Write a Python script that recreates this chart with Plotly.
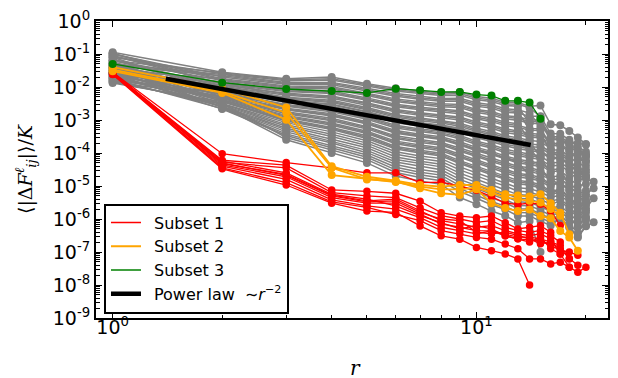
import plotly.graph_objects as go

# log10 of <|dF|>/K at r = 1, 2, 3, ...
gray_log10 = [
    [-0.95,-1.55,-1.75,-1.70,-1.90,-2.04,-2.12,-2.18,-2.15,-2.29,-2.34,-2.46,-2.47,-2.58,-2.56,-3.13,-3.16,-3.33,-3.53,-3.73],
    [-1.20,-1.58,-1.78,-1.75,-1.94,-2.08,-2.16,-2.22,-2.20,-2.34,-2.39,-2.51,-2.52,-2.63,-2.90],
    [-1.10,-1.60,-1.81,-1.79,-1.97,-2.12,-2.20,-2.26,-2.25,-2.39,-2.44,-2.56,-2.58,-3.10],
    [-1.30,-1.62,-1.86,-1.86,-2.04,-2.20,-2.28,-2.35,-2.34,-2.48,-2.54,-2.66,-2.69,-2.79,-3.20],
    [-1.35,-1.66,-1.89,-1.89,-2.08,-2.24,-2.33,-2.39,-2.39,-2.53,-2.59,-2.71,-2.74,-3.30],
    [-1.00,-1.70,-1.92,-1.93,-2.12,-2.28,-2.37,-2.43,-2.43,-2.58,-2.64,-2.77,-2.79,-2.89,-2.89,-3.41,-3.42,-3.60,-3.81,-3.96],
    [-1.50,-1.75,-1.97,-1.99,-2.19,-2.36,-2.45,-2.51,-2.53,-2.68,-2.74,-2.87,-2.90,-3.00,-3.00,-3.50,-3.51,-3.69,-3.90,-4.04],
    [-1.05,-1.78,-2.00,-2.03,-2.22,-2.40,-2.49,-2.55,-2.58,-2.72,-2.79,-2.92,-2.95,-3.05,-3.05,-3.54,-3.56,-3.74,-3.95,-4.08],
    [-1.20,-1.80,-2.03,-2.06,-2.26,-2.44,-2.53,-2.60,-2.62,-2.77,-2.84,-2.97,-3.01,-3.10,-3.11,-3.59,-3.60,-3.78,-4.00,-4.12],
    [-1.40,-1.85,-2.08,-2.13,-2.33,-2.52,-2.61,-2.68,-2.72,-2.87,-2.95,-3.07,-3.11,-3.60],
    [-1.55,-1.88,-2.11,-2.17,-2.37,-2.56,-2.65,-2.72,-2.76,-2.92,-3.00,-3.12,-3.17,-3.26,-3.27,-3.73,-3.73,-3.92,-4.14,-4.23],
    [-1.05,-1.90,-2.14,-2.20,-2.40,-2.60,-2.69,-2.76,-2.81,-2.96,-3.05,-3.17,-3.22,-3.31,-3.32,-3.77,-3.78,-3.96,-4.19,-4.27],
    [-0.98,-1.92,-2.22,-2.30,-2.51,-2.72,-2.82,-2.89,-2.95,-3.11,-3.20,-3.32,-3.38,-3.47,-3.49,-3.91,-3.91,-4.10,-4.33,-4.39],
    [-1.60,-1.95,-2.19,-2.27,-2.48,-2.68,-2.78,-2.85,-2.91,-3.06,-3.15,-3.27,-3.33,-3.41,-3.43,-3.90],
    [-1.25,-1.98,-2.25,-2.34,-2.55,-2.76,-2.86,-2.93,-3.00,-3.16,-3.25,-3.38,-3.44,-3.52,-3.54,-3.70,-3.72,-3.65,-3.70,-3.75],
    [-1.45,-2.00,-2.31,-2.40,-2.62,-2.84,-2.94,-3.01,-3.10,-3.25,-3.35,-3.48,-3.54,-3.62,-3.65,-3.87,-4.20],
    [-1.62,-2.02,-2.33,-2.44,-2.66,-2.88,-2.98,-3.05,-3.14,-3.30,-3.40,-3.53,-3.60,-3.67,-4.10],
    [-1.70,-2.05,-2.36,-2.47,-2.69,-2.92,-3.02,-3.09,-3.19,-3.35,-3.45,-3.58,-3.65,-3.73,-3.76,-3.99,-3.98,-4.18,-4.56,-4.58],
    [-1.15,-2.08,-2.42,-2.54,-2.76,-3.00,-3.10,-3.18,-3.28,-3.45,-3.55,-3.68,-3.76,-3.83,-4.30],
    [-1.55,-2.10,-2.47,-2.61,-2.84,-3.08,-3.19,-3.26,-3.38,-3.54,-3.65,-3.78,-3.87,-3.93,-3.98,-4.17,-4.16,-4.36,-4.59,-4.73],
    [-1.30,-2.12,-2.44,-2.58,-2.80,-3.04,-3.14,-3.22,-3.33,-3.49,-3.60,-3.73,-3.81,-3.88,-3.93,-4.14,-4.13,-4.33,-4.56,-4.69],
    [-1.35,-2.15,-2.53,-2.68,-2.91,-3.16,-3.27,-3.34,-3.47,-3.64,-3.75,-3.88,-3.97,-4.04,-4.09,-4.30,-4.28,-4.48,-4.72,-4.71],
    [-1.10,-2.18,-2.56,-2.71,-2.94,-3.20,-3.31,-3.39,-3.52,-3.69,-3.80,-3.94,-4.03,-4.09,-4.14,-4.60],
    [-1.80,-2.20,-2.58,-2.75,-2.98,-3.24,-3.35,-3.43,-3.57,-3.74,-3.85,-3.99,-4.08,-4.14,-4.20,-4.39,-4.37,-4.57,-4.81,-4.78,-4.87],
    [-1.65,-2.22,-2.64,-2.81,-3.05,-3.32,-3.43,-3.51,-3.66,-3.83,-3.95,-4.09,-4.19,-4.25,-4.31,-4.51,-4.48,-5.00],
    [-1.40,-2.25,-2.69,-2.88,-3.12,-3.40,-3.51,-3.59,-3.76,-3.93,-4.05,-4.19,-4.30,-4.35,-4.42,-4.90],
    [-1.72,-2.28,-2.67,-2.85,-3.09,-3.36,-3.47,-3.55,-3.71,-3.88,-4.00,-4.14,-4.24,-4.30,-4.36,-4.57,-4.54,-4.75,-5.00,-4.94],
    [-1.85,-2.30,-2.75,-2.95,-3.20,-3.48,-3.59,-3.68,-3.85,-4.02,-4.15,-4.29,-4.40,-4.45,-4.53,-4.73,-4.69,-4.90,-5.15],
    [-1.25,-2.30,-2.78,-2.99,-3.23,-3.52,-3.64,-3.72,-3.90,-4.07,-4.21,-4.34,-4.46,-4.51,-4.58,-4.76,-5.00],
    [-1.50,-2.32,-2.81,-3.02,-3.27,-3.56,-3.68,-3.76,-3.95,-4.12,-4.26,-4.39,-4.51,-4.56,-4.64,-4.82,-4.78,-4.99,-5.25,-5.14],
    [-1.75,-2.35,-2.86,-3.09,-3.34,-3.64,-3.76,-3.84,-4.04,-4.22,-4.36,-4.49,-4.62,-4.66,-4.74,-4.94,-4.90,-5.11,-5.37,-5.25,-5.07],
    [-1.58,-2.38,-2.89,-3.12,-3.38,-3.68,-3.80,-3.88,-4.09,-4.26,-4.41,-4.55,-4.67,-4.71,-4.80,-4.97,-4.92,-5.14,-5.45,-5.31],
    [-1.30,-2.40,-2.92,-3.16,-3.41,-3.72,-3.84,-3.93,-4.13,-4.31,-4.46,-4.60,-4.73,-4.77,-4.85,-5.03,-5.30],
    [-1.60,-2.42,-2.97,-3.23,-3.48,-3.80,-3.92,-4.01,-4.23,-4.41,-4.56,-4.70,-4.83,-4.87,-4.96,-5.16,-5.10,-5.32,-5.59,-5.43],
    [-1.40,-2.44,-3.00,-3.26,-3.52,-3.84,-3.96,-4.05,-4.28,-4.46,-4.61,-4.75,-4.89,-4.92,-5.02,-5.19,-5.13,-5.35,-5.62,-5.46],
    [-1.88,-2.45,-3.03,-3.29,-3.56,-3.88,-4.00,-4.09,-4.32,-4.51,-4.66,-4.80,-4.94,-4.97,-5.07,-5.25,-5.19,-5.41,-5.68,-5.50],
    [-1.45,-2.50,-3.08,-3.36,-3.63,-3.96,-4.09,-4.17,-4.42,-4.60,-4.76,-4.90,-5.05,-5.08,-5.18,-5.34,-5.28,-5.50,-5.78,-5.58],
    [-1.70,-2.52,-3.14,-3.43,-3.70,-4.04,-4.17,-4.26,-4.51,-4.70,-4.86,-5.00,-5.16,-5.18,-5.29,-5.46,-5.39,-5.63,-5.90,-5.68,-5.37],
    [-1.55,-2.55,-3.19,-3.50,-3.77,-4.12,-4.25,-4.34,-4.61,-4.79,-4.96,-5.10,-5.26,-5.29,-5.40,-5.56,-5.45,-5.69,-5.96,-5.74],
    [-1.80,-2.58,-3.25,-3.57,-3.84,-4.20,-4.33,-4.42,-4.70,-4.89,-5.06,-5.21,-5.37,-5.39,-5.51,-5.68,-5.60,-5.84,-6.06,-5.81],
    [-1.65,-2.60,-3.30,-3.64,-3.92,-4.27,-4.41,-4.51,-4.80,-4.99,-5.16,-5.31,-5.48,-5.50,-5.62,-5.77,-5.69,-5.93,-6.21,-5.94],
    [-1.35,-2.62,-3.36,-3.70,-3.99,-4.35,-4.50,-4.59,-4.89,-5.08,-5.26,-5.41,-5.59,-5.60,-5.73,-5.89,-5.81,-5.96,-6.24,-5.97],
    [-1.75,-2.65,-3.42,-3.77,-4.06,-4.43,-4.58,-4.67,-4.99,-5.18,-5.36,-5.51,-5.69,-5.70,-5.84,-5.99,-5.89,-6.14,-6.43,-6.04],
    [-1.60,-2.67,-3.47,-3.84,-4.13,-4.51,-4.66,-4.76,-5.08,-5.28,-5.47,-5.61,-5.80,-5.81,-5.95,-6.11,-6.01,-6.26,-6.56,-6.22,-6.10],
    [-1.85,-2.50,-3.53,-3.91,-4.20,-4.59,-4.74,-4.84,-5.17,-5.37,-5.57,-5.71,-5.91,-5.91,-6.05,-6.20,-5.98,-6.23,-6.53,-6.20],
    [-1.50,-2.60,-3.60,-4.00,-4.30,-4.70,-4.85,-4.95,-5.35,-5.55,-5.76,-5.90,-6.11,-6.06,-7.00],
    [-1.20,-1.95,-2.68,-2.86,-3.10,-3.37,-3.49,-3.57,-3.73,-3.90,-4.02,-4.16,-4.26,-4.70],
    [-1.00,-1.75,-2.40,-2.52,-2.74,-2.97,-3.08,-3.15,-3.25,-3.41,-3.52,-3.65,-3.72,-3.80,-3.83,-4.05,-4.04,-4.24,-4.47,-4.50],
]

red_log10 = [
    [-1.55,-4.02,-4.29,-4.45,-4.60,-4.60,-4.90,-4.88,-5.00,-5.13,-5.32,-5.52,-5.56,-5.52,-5.55,-5.76,-6.20],
    [-1.57,-4.22,-4.37,-5.12,-5.16,-5.22,-5.46,-5.81,-5.91,-5.96,-5.91,-6.11,-6.30,-6.25,-6.20,-6.40],
    [-1.58,-4.28,-4.45,-5.20,-5.30,-5.35,-5.66,-5.90,-6.00,-6.10,-6.05,-6.25,-6.35,-6.40,-6.35,-6.50,-6.70],
    [-1.60,-4.32,-4.65,-5.28,-5.45,-5.40,-5.75,-6.05,-6.15,-6.25,-6.20,-6.35,-6.45,-6.50,-6.45,-6.60,-7.06],
    [-1.56,-4.36,-4.72,-5.35,-5.52,-5.52,-5.85,-6.15,-6.25,-6.35,-6.36,-6.45,-6.55,-6.55,-6.60,-6.70,-6.80,-7.21],
    [-1.61,-4.40,-4.80,-5.42,-5.60,-5.70,-5.96,-6.25,-6.35,-6.45,-6.36,-6.51,-6.60,-6.62,-6.66,-6.80,-6.95,-7.00,-7.10],
    [-1.59,-4.45,-4.90,-5.48,-5.65,-5.86,-6.05,-6.35,-6.45,-6.56,-6.61,-6.76,-6.90,-7.21,-7.21,-7.36,-7.31,-7.46,-7.61,-7.46],
    [-1.62,-4.48,-4.97,-5.52,-5.76,-5.80,-6.21,-6.51,-6.61,-6.86,-6.96,-7.06,-7.21,-8.00],
    [-1.57,-4.25,-4.60,-5.25,-5.40,-5.60,-5.90,-6.10,-6.30,-6.20,-6.30,-6.51,-6.60,-6.70,-6.55,-6.90,-7.06,-7.46],
    [-1.60,-4.30,-4.68,-5.30,-5.48,-5.45,-5.80,-6.00,-6.05,-6.40,-6.45,-6.40,-6.50,-6.60,-6.75,-6.70,-6.90,-7.20,-7.40],
]

orange_log10 = [
    [-1.40,-2.05,-2.62,-4.40,-4.72,-4.84,-4.97,-5.02,-4.97,-4.97,-5.12,-5.25,-5.29,-5.32,-5.25,-5.52,-5.81,-6.46],
    [-1.47,-2.14,-2.78,-4.45,-4.80,-4.86,-5.07,-5.22,-5.27,-5.10,-5.52,-5.67,-5.76,-5.71,-5.91,-5.98,-6.36,-6.56,-6.96],
    [-1.52,-2.18,-2.99,-4.67,-4.78,-4.88,-5.02,-5.10,-5.10,-5.05,-5.20,-5.35,-5.40,-5.45,-5.50,-5.70,-5.90],
]

green_log10 = [-1.30,-1.87,-2.06,-2.12,-2.18,-2.05,-2.10,-2.15,-2.15,-2.23,-2.26,-2.42,-2.42,-2.47,-2.96]

# power law ~ r^-2
fit_r = [1.4, 14.1]
fit_coef = 0.0347
fit_exponent = -2

legend_names = ["\u2002Subset 1", "\u2002Subset 2", "\u2002Subset 3",
                "\u2002Power law  \u223c<i>r</i><sup>\u22122</sup>"]
y_tick_exponents = [0, -1, -2, -3, -4, -5, -6, -7, -8, -9]
x_tick_exponents = [0, 1]

GRAY, RED, ORANGE, GREEN = "#808080", "#ff0000", "#ffa500", "#008000"

fig = go.Figure()


def add_series(vals, color, lw, ms):
    r = list(range(1, len(vals) + 1))
    fig.add_trace(go.Scatter(
        x=r, y=[10 ** v for v in vals], mode="lines+markers",
        line=dict(color=color, width=lw),
        marker=dict(color=color, size=ms, line=dict(width=0)),
        showlegend=False, hoverinfo="skip"))


for s in gray_log10:
    add_series(s, GRAY, 1.5, 8)
for s in red_log10:
    add_series(s, RED, 1.3, 7.5)
for s in orange_log10:
    add_series(s, ORANGE, 1.8, 8)
add_series(green_log10, GREEN, 1.3, 8)

fig.add_trace(go.Scatter(
    x=fit_r, y=[fit_coef * r ** fit_exponent for r in fit_r], mode="lines",
    line=dict(color="black", width=4.5), showlegend=False, hoverinfo="skip"))

# legend-only entries (line samples, no markers)
for name, color, w in zip(legend_names, [RED, ORANGE, GREEN, "black"], [1.5, 1.8, 1.5, 4.5]):
    fig.add_trace(go.Scatter(x=[None], y=[None], mode="lines", name=name,
                             line=dict(color=color, width=w)))

font = "DejaVu Sans"
axis_common = dict(
    type="log", showline=True, linecolor="black", linewidth=2, mirror="ticks",
    ticks="inside", ticklen=6, tickwidth=1, tickcolor="black",
    showgrid=False, zeroline=False, tickmode="array",
    tickfont=dict(family=font, size=19, color="black"),
)

fig.update_xaxes(
    **axis_common, range=[-0.0458, 1.3617],
    tickvals=[10 ** e for e in x_tick_exponents],
    ticktext=[f"10<sup>{e}</sup>" for e in x_tick_exponents],
    ticklabelstandoff=-9,
    minor=dict(ticks="inside", ticklen=3.5, tickcolor="black", tickwidth=1,
               tickmode="array", tickvals=[2, 3, 4, 5, 6, 7, 8, 9, 20], showgrid=False),
)
fig.update_yaxes(
    **axis_common, range=[-9, 0],
    tickvals=[10 ** e for e in y_tick_exponents],
    ticktext=[f"10<sup>{e}</sup>" for e in y_tick_exponents],
    title=dict(text="\u27e8|\u0394<i>F</i><sup><i>\u2113</i></sup><sub><i>ij</i></sub>|\u27e9/<i>K</i>",
               font=dict(family="DejaVu Serif", size=19, color="black")),
    minor=dict(ticks="inside", ticklen=3.5, tickcolor="black", tickwidth=1,
               tickmode="array",
               tickvals=[k * 10 ** e for e in range(-9, 0) for k in range(2, 10)],
               showgrid=False),
)

fig.update_layout(
    width=618, height=378,
    margin=dict(l=96, r=8, t=17, b=60),
    paper_bgcolor="white", plot_bgcolor="white",
    showlegend=True,
    legend=dict(x=0.0156, y=0.015, xanchor="left", yanchor="bottom",
                bordercolor="black", borderwidth=2, bgcolor="white",
                font=dict(family=font, size=16, color="black")),
    annotations=[
        dict(text="<i>r</i>", xref="paper", yref="paper", x=0.506, y=-0.169,
             showarrow=False, xanchor="center", yanchor="middle",
             font=dict(family="DejaVu Serif", size=20, color="black")),
    ],
)

fig.write_html("out.html", config={"displayModeBar": False},
               post_script="document.body.style.margin='0';")
